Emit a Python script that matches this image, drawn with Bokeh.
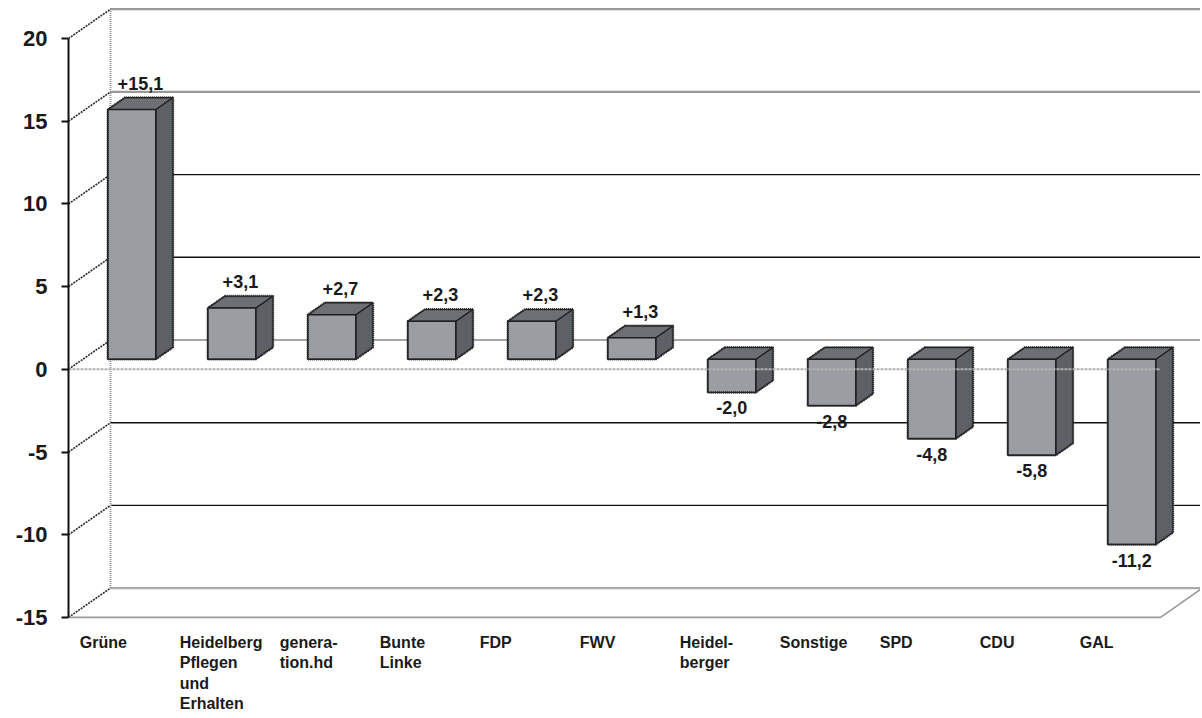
from bokeh.plotting import figure
from bokeh.models import Range1d, FixedTicker, ColumnDataSource
from bokeh.embed import file_html
from bokeh.resources import INLINE
from bokeh.core.properties import value

# ---------------- data ----------------
parties = ["Grüne", "Heidelberg\nPflegen\nund\nErhalten", "genera-\ntion.hd", "Bunte\nLinke",
           "FDP", "FWV", "Heidel-\nberger", "Sonstige", "SPD", "CDU", "GAL"]
changes = [15.1, 3.1, 2.7, 2.3, 2.3, 1.3, -2.0, -2.8, -4.8, -5.8, -11.2]
y_ticks = [-15, -10, -5, 0, 5, 10, 15, 20]

# ---------------- geometry / style ----------------
W, H = 1200, 716
LEFT = 68
XS = 100.0          # px per category
YS = 16.54          # px per value unit
X0 = -0.49          # data x at frame left (front-left corner)
YTOP = 20 + 38 / YS
DX = 0.42           # wall depth in x (data units)
DY = 29.3 / YS      # wall depth in y (data units)
F0, DD = 0.34, 0.41 # bar front depth and bar depth (fraction of wall depth)
HW = 0.24           # bar half width
YMIN, YMAX = min(y_ticks), max(y_ticks)
n = len(changes)
XR = n - 0.57       # front-right corner

FONT = "Liberation Sans"
FRONT, TOP, SIDE, EDGE = "#9a9da1", "#6c6f73", "#5d6064", "#1e1e1e"

p = figure(width=W, height=H, output_backend="svg", toolbar_location=None,
           x_range=Range1d(X0, X0 + (W - LEFT) / XS),
           y_range=Range1d(YTOP - H / YS, YTOP),
           x_axis_location=None, min_border_left=LEFT, min_border_right=0,
           min_border_top=0, min_border_bottom=0)
p.grid.visible = False
p.outline_line_color = None
p.background_fill_color = "white"

# ---------------- back wall gridlines ----------------
grid_style = {20: ("#333333", "1 1", 2.2), 15: ("#333333", "1 1", 2.2),
              10: ("#111111", "solid", 1.4), 5: ("#111111", "solid", 1.4),
              0: ("#a6a6a6", "solid", 2.0), -5: ("#111111", "solid", 1.4),
              -10: ("#111111", "solid", 1.4), -15: ("#555555", "1 1", 2.2)}
for t in y_ticks:
    c, d, w = grid_style[t]
    p.line([X0 + DX, XR + DX], [t + DY, t + DY], line_color=c, line_dash=d, line_width=w)
    # left wall diagonals
    p.line([X0, X0 + DX], [t, t + DY], line_color="#2a2a2a", line_dash="2 1", line_width=1.6)

# left wall back edge
p.line([X0 + DX, X0 + DX], [YMIN + DY, YMAX + DY], line_color="#9a9a9a", line_dash="1 1", line_width=2)
# floor front edge + right diagonal
p.line([X0, XR, XR + DX], [YMIN, YMIN, YMIN + DY], line_color="#9a9a9a", line_width=1.6)

# ---------------- 3D bars ----------------
front_xs, front_ys, top_xs, top_ys, side_xs, side_ys, sil_xs, sil_ys = ([] for _ in range(8))
ddx, ddy = DD * DX, DD * DY
for i, v in enumerate(changes):
    cx = i + F0 * DX
    xl, xr = cx - HW, cx + HW
    t = max(v, 0) + F0 * DY
    b = min(v, 0) + F0 * DY
    front_xs.append([xl, xr, xr, xl]); front_ys.append([b, b, t, t])
    top_xs.append([xl, xr, xr + ddx, xl + ddx]); top_ys.append([t, t, t + ddy, t + ddy])
    side_xs.append([xr, xr + ddx, xr + ddx, xr]); side_ys.append([t, t + ddy, b + ddy, b])
    sil_xs.append([xl, xl, xl + ddx, xr + ddx, xr + ddx, xr, xl])
    sil_ys.append([b, t, t + ddy, t + ddy, b + ddy, b, b])

p.patches(side_xs, side_ys, fill_color=SIDE, line_color=EDGE, line_width=1.2)
p.patches(top_xs, top_ys, fill_color=TOP, line_color=EDGE, line_width=1.2)
p.patches(front_xs, front_ys, fill_color=FRONT, line_color=EDGE, line_width=1.5)
p.multi_line(sil_xs, sil_ys, line_color="#2b2b2b", line_dash="1 1", line_width=2.4)

# floor at zero, front edge (drawn over bars)
p.line([X0, XR], [0, 0], line_color="#b0b0b0", line_dash="3 1", line_width=2)

# ---------------- value labels ----------------
fmt = [("%+.1f" % v).replace(".", ",") for v in changes]
pos = dict(x=[], y=[], t=[])
neg = dict(x=[], y=[], t=[])
for i, v in enumerate(changes):
    cx = i + F0 * DX
    if v >= 0:
        pos["x"].append(cx + ddx / 2); pos["y"].append(v + (F0 + DD) * DY + 8 / YS); pos["t"].append(fmt[i])
    else:
        neg["x"].append(cx); neg["y"].append(v + F0 * DY - 9 / YS); neg["t"].append(fmt[i])
p.text("x", "y", text="t", source=ColumnDataSource(pos), text_align="center",
       text_baseline="bottom", text_font=value(FONT), text_font_style="bold",
       text_font_size="18px", text_color="#1a1a1a")
p.text("x", "y", text="t", source=ColumnDataSource(neg), text_align="center",
       text_baseline="top", text_font=value(FONT), text_font_style="bold",
       text_font_size="18px", text_color="#1a1a1a")

# ---------------- category labels ----------------
cat = ColumnDataSource(dict(x=[i + F0 * DX - 0.52 for i in range(n)],
                            y=[YMIN - 17 / YS] * n, t=parties))
p.text("x", "y", text="t", source=cat, text_align="left", text_baseline="top",
       text_font=value(FONT), text_font_style="bold", text_font_size="16px",
       text_line_height=1.18, text_color="#1a1a1a")

# ---------------- front value axis ----------------
ax = p.yaxis[0]
ax.ticker = FixedTicker(ticks=y_ticks)
ax.major_label_overrides = {t: str(t) for t in y_ticks}
ax.bounds = (YMIN, YMAX)
ax.axis_line_width = 2
ax.axis_line_color = "#111111"
ax.major_tick_line_width = 2
ax.major_tick_line_color = "#111111"
ax.major_tick_out = 7
ax.major_tick_in = 0
ax.minor_tick_line_color = None
ax.major_label_standoff = 14
ax.major_label_text_font = FONT
ax.major_label_text_font_style = "bold"
ax.major_label_text_font_size = "22px"
ax.major_label_text_color = "#1a1a1a"

open("out.html", "w").write(file_html(p, INLINE))
